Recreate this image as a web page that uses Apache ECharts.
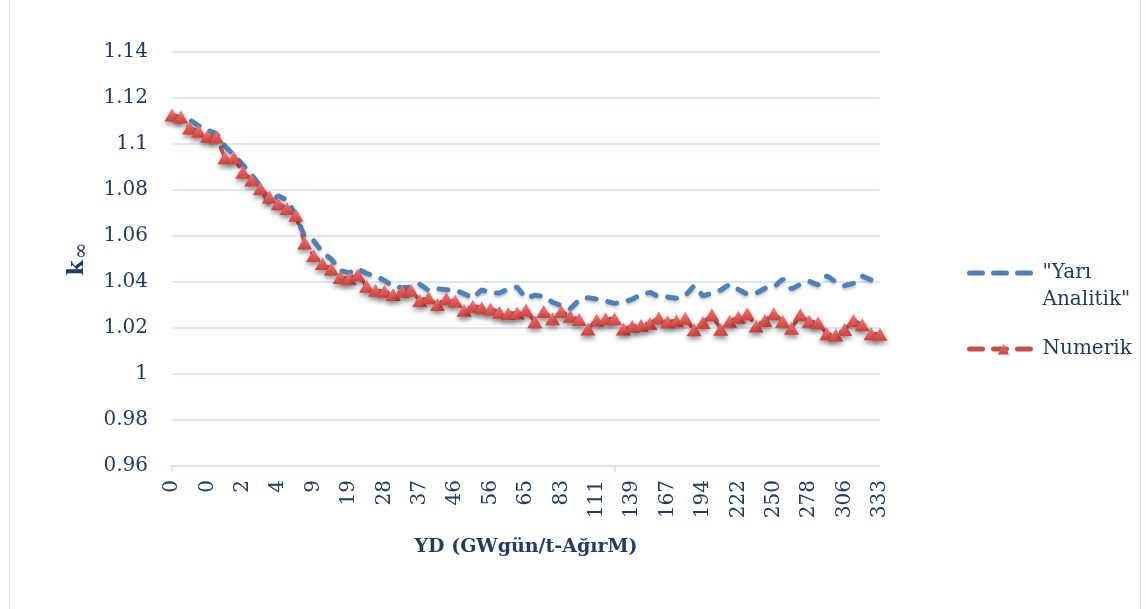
<!DOCTYPE html>
<html>
<head>
<meta charset="utf-8">
<script src="https://cdn.jsdelivr.net/npm/echarts@6/dist/echarts.min.js"></script>
<style>
  html, body { margin: 0; padding: 0; background: #fff; }
  #chart { width: 1146px; height: 609px; }
</style>
</head>
<body>
<div id="chart"></div>
<script>
// burnup categories (YD), every 4th one is labelled
var burnup = ['0', '0', '0', '0', '0', '1', '1', '1', '2', '2', '3', '3', '4', '5', '6', '7',
  '9', '11', '14', '16', '19', '21', '23', '26', '28', '30', '33', '35', '37', '39', '42', '44',
  '46', '49', '51', '53', '56', '58', '60', '63', '65', '69', '74', '78', '83', '90', '97', '104',
  '111', '118', '125', '132', '139', '146', '153', '160', '167', '174', '181', '188', '194', '201', '208', '215',
  '222', '229', '236', '243', '250', '257', '264', '271', '278', '285', '292', '299', '306', '313', '320', '327', '333']

var yariAnalitik = [1.112, 1.110, 1.1105, 1.108, 1.106, 1.1045, 1.099, 1.095, 1.091, 1.0866, 1.0815, 1.074, 1.0775, 1.0756, 1.069, 1.0596,
  1.058, 1.053, 1.050, 1.045, 1.044, 1.0458, 1.0437, 1.0426, 1.0407, 1.0382, 1.0375, 1.0378, 1.039, 1.0364, 1.0371, 1.0366,
  1.0365, 1.0349, 1.033, 1.0366, 1.0352, 1.0352, 1.0369, 1.0378, 1.0329, 1.0343, 1.0336, 1.0312, 1.0297, 1.0283, 1.0322, 1.0332,
  1.0326, 1.0317, 1.0307, 1.0312, 1.0325, 1.0346, 1.0355, 1.0336, 1.0335, 1.0329, 1.034, 1.0384, 1.034, 1.0351, 1.0365, 1.039,
  1.0368, 1.0347, 1.0351, 1.0373, 1.0378, 1.0413, 1.037, 1.039, 1.0404, 1.0387, 1.0427, 1.0401, 1.0384, 1.0394, 1.0426, 1.0409, 1.0423]

var numerik = [1.1126, 1.1117, 1.107, 1.1055, 1.1034, 1.103, 1.094, 1.094, 1.0877, 1.0844, 1.0807, 1.077, 1.074, 1.072, 1.069, 1.057,
  1.0515, 1.048, 1.0457, 1.042, 1.0415, 1.0432, 1.0382, 1.0364, 1.036, 1.0346, 1.036, 1.0364, 1.032, 1.0331, 1.0302, 1.0327,
  1.0317, 1.0277, 1.0295, 1.0288, 1.0283, 1.0269, 1.0263, 1.0265, 1.0278, 1.0227, 1.0272, 1.024, 1.0272, 1.0251, 1.0237, 1.0196,
  1.0235, 1.024, 1.024, 1.0196, 1.0208, 1.0212, 1.022, 1.0243, 1.0227, 1.0232, 1.0242, 1.0192, 1.0224, 1.0258, 1.0195, 1.0229,
  1.0247, 1.0262, 1.0209, 1.0233, 1.0262, 1.0229, 1.0199, 1.0258, 1.0229, 1.0223, 1.0175, 1.017, 1.0193, 1.0233, 1.0214, 1.0175, 1.0173]

var textColor = '#1F3B66'
var gridColor = '#D3E0F2'
var fontName = 'DejaVu Serif'

var chart = echarts.init(document.getElementById('chart'))
chart.setOption({
  animation: false,
  textStyle: { fontFamily: fontName, color: textColor },
  graphic: [
    { type: 'line', shape: { x1: 9.5, y1: 0, x2: 9.5, y2: 609 }, style: { stroke: '#D6E2F2', lineWidth: 1 } },
    { type: 'line', shape: { x1: 1140.5, y1: 0, x2: 1140.5, y2: 609 }, style: { stroke: '#D6E2F2', lineWidth: 1 } }
  ],
  grid: {
    left: 172,
    right: 266,
    top: 52,
    bottom: 143
  },
  legend: {
    orient: 'vertical',
    left: 962,
    top: 227.5,
    itemWidth: 68,
    itemHeight: 14,
    itemGap: 22,
    textStyle: { fontFamily: fontName, fontSize: 20, color: textColor, lineHeight: 27 },
    lineStyle: { width: 5, type: [13, 11], cap: 'round' },
    // empty first line keeps the icon level with "Yarı", as in the original
    formatter: function (name) { return name.indexOf('\n') >= 0 ? ' \n' + name : name },
    data: [
      { name: '"Yarı\nAnalitik"', itemStyle: { opacity: 0 } },
      { name: 'Numerik' }
    ]
  },
  xAxis: {
    type: 'category',
    data: burnup,
    boundaryGap: false,
    name: 'YD (GWgün/t-AğırM)',
    nameLocation: 'middle',
    nameGap: 72,
    nameTextStyle: { fontFamily: fontName, fontSize: 19, fontWeight: 'bold', color: textColor },
    axisLine: { lineStyle: { color: gridColor, width: 1.5 } },
    axisTick: { show: true, interval: 49, length: 6, lineStyle: { color: gridColor, width: 1.5 } },
    axisLabel: {
      interval: 3,
      rotate: 90,
      fontSize: 20,
      color: textColor,
      fontFamily: fontName,
      margin: 14
    },
    splitLine: { show: false }
  },
  yAxis: {
    type: 'value',
    min: 0.96,
    max: 1.14,
    interval: 0.02,
    name: '{k|k}{s|∞}',
    nameLocation: 'middle',
    nameGap: 80,
    nameRotate: 90,
    nameTextStyle: {
      rich: {
        k: { fontFamily: fontName, fontSize: 22, fontWeight: 'bold', color: textColor },
        s: { fontFamily: fontName, fontSize: 20, color: textColor, padding: [10, 0, 0, 1] }
      }
    },
    axisLine: { show: false },
    axisTick: { show: false },
    axisLabel: {
      fontSize: 20,
      color: textColor,
      fontFamily: fontName,
      margin: 24,
      formatter: function (v) { return String(parseFloat(v.toFixed(2))) }
    },
    splitLine: { lineStyle: { color: gridColor, width: 1.5 } }
  },
  series: [
    {
      name: '"Yarı\nAnalitik"',
      type: 'line',
      data: yariAnalitik,
      symbol: 'none',
      z: 2,
      lineStyle: {
        color: '#4F81BD',
        width: 5,
        type: [9, 12],
        cap: 'round',
        shadowColor: 'rgba(0,0,0,0.25)',
        shadowBlur: 3,
        shadowOffsetY: 2
      },
      itemStyle: { color: '#4F81BD' }
    },
    {
      name: 'Numerik',
      type: 'line',
      data: numerik,
      symbol: 'triangle',
      symbolSize: [15, 13],
      showAllSymbol: true,
      z: 3,
      lineStyle: {
        color: '#C0504D',
        width: 4,
        type: [9, 12],
        cap: 'round'
      },
      itemStyle: {
        color: new echarts.graphic.LinearGradient(0, 0, 0, 1, [
          { offset: 0, color: '#F27A78' },
          { offset: 1, color: '#D0403C' }
        ]),
        borderWidth: 0,
        shadowColor: 'rgba(0,0,0,0.45)',
        shadowBlur: 5,
        shadowOffsetY: 3
      }
    }
  ]
})
</script>
</body>
</html>
